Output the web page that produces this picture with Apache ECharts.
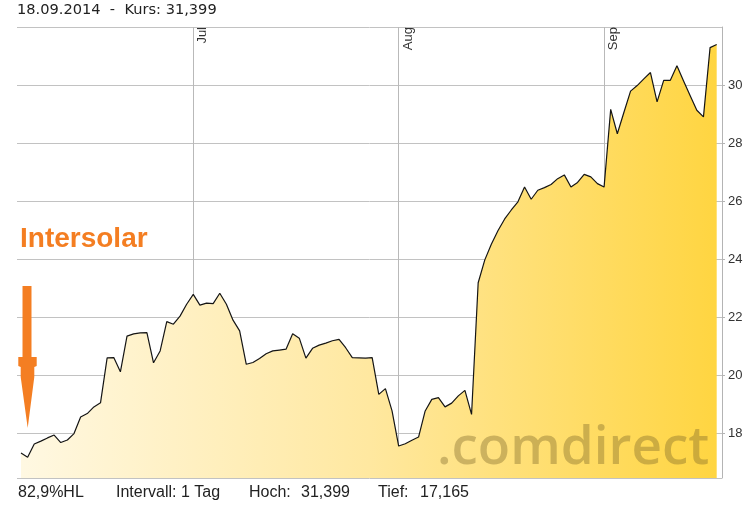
<!DOCTYPE html>
<html><head><meta charset="utf-8">
<script src="https://cdn.jsdelivr.net/npm/echarts@6/dist/echarts.min.js"></script>
<style>html,body{margin:0;padding:0;background:#fff}#c{width:756px;height:506px}</style>
</head><body><div id="c"></div>
<script>
// daily closing prices (Intervall: 1 Tag), first day 05.06.2014, last 18.09.2014
const firstDay = [2014, 6, 5];
const juneValues = [17.31, 17.165, 17.62, 17.72, 17.83, 17.93, 17.67, 17.76, 17.98, 18.55, 18.67, 18.90, 19.04,
  20.59, 20.60, 20.11, 21.34, 21.42, 21.45, 21.46, 20.42, 20.83, 21.84, 21.75, 22.03, 22.44];
const julyValues = [22.78, 22.41, 22.48, 22.46, 22.82, 22.44, 21.89, 21.52, 20.37, 20.43, 20.57, 20.73, 20.83,
  20.86, 20.89, 21.42, 21.27, 20.58, 20.92, 21.03, 21.10, 21.18, 21.23, 20.94, 20.60, 20.59, 20.58, 20.60,
  19.33, 19.53, 18.76];
const augustValues = [17.55, 17.63, 17.75, 17.86, 18.76, 19.16, 19.22, 18.90, 19.03, 19.28, 19.47, 18.64,
  23.18, 23.97, 24.52, 24.98, 25.38, 25.69, 25.97, 26.48, 26.06, 26.37, 26.46, 26.57, 26.77, 26.90, 26.48,
  26.64, 26.92, 26.83, 26.60];
const septemberValues = [26.48, 29.16, 28.32, 29.06, 29.79, 29.98, 30.21, 30.43, 29.42, 30.16, 30.16, 30.66,
  30.14, 29.63, 29.13, 28.90, 31.29, 31.399];
const headerText = '18.09.2014  -  Kurs: 31,399';
const footerTexts = ['82,9%HL', 'Intervall: 1 Tag', 'Hoch:', '31,399', 'Tief:', '17,165'];
const eventLabel = 'Intersolar';
const watermark = '.comdirect';

const values = juneValues.concat(julyValues, augustValues, septemberValues);
const dates = values.map((v, i) => {
  const d = new Date(firstDay[0], firstDay[1] - 1, firstDay[2] + i);
  return d.getFullYear() + '-' + String(d.getMonth() + 1).padStart(2, '0') + '-' + String(d.getDate()).padStart(2, '0');
});
const seriesData = dates.map((d, i) => [d, values[i]]);

const chart = echarts.init(document.getElementById('c'), null, {renderer: 'canvas'});
const footerX = [18, 116, 249, 301, 378, 420];
chart.setOption({
  animation: false,
  backgroundColor: '#ffffff',
  textStyle: {fontFamily: 'Liberation Sans'},
  grid: {left: 17, right: 34, top: 27, bottom: 28, containLabel: false, outerBoundsMode: 'none'},
  xAxis: {
    type: 'time',
    position: 'top',
    min: +new Date(2014, 5, 4, 9, 30),
    max: +new Date(2014, 8, 18, 19, 12),
    splitNumber: 3,
    axisLine: {show: false},
    axisTick: {show: false},
    axisLabel: {
      inside: true, rotate: -90, align: 'right', verticalAlign: 'top', margin: 0, padding: [3, 0, 0, 0],
      formatter: '{MMM}', color: '#333', fontSize: 13, fontFamily: 'Liberation Sans',
      showMinLabel: false, showMaxLabel: false
    },
    splitLine: {show: true, showMinLine: false, showMaxLine: false, lineStyle: {color: '#b9b9b9', width: 1}}
  },
  yAxis: {
    type: 'value',
    position: 'right',
    min: 16.448,
    max: 32,
    minInterval: 2,
    maxInterval: 2,
    splitNumber: 8,
    axisLine: {show: true, lineStyle: {color: '#b4b4b4'}},
    axisTick: {show: true, length: 3, lineStyle: {color: '#b4b4b4'}},
    axisLabel: {color: '#333', fontSize: 13, fontFamily: 'Liberation Sans', margin: 6,
      showMinLabel: false, showMaxLabel: false},
    splitLine: {show: true, lineStyle: {color: '#c2c2c2', width: 1}}
  },
  series: [{
    type: 'line',
    data: seriesData,
    symbol: 'none',
    lineStyle: {color: '#151515', width: 1.2},
    areaStyle: {
      opacity: 1,
      color: new echarts.graphic.LinearGradient(0, 0, 1, 0, [
        {offset: 0, color: '#FFF8E2'},
        {offset: 0.5, color: '#FFE8A0'},
        {offset: 1, color: '#FFD541'}
      ])
    },
    z: 2
  }],
  graphic: [
    {type: 'text', z: 10, style: {x: 17, y: 10, text: headerText, font: '14.6px "DejaVu Sans"', fill: '#222', align: 'left', verticalAlign: 'middle'}},
    {type: 'text', z: 10, style: {x: 20, y: 239, text: eventLabel, font: 'bold 28px "Liberation Sans"', fill: '#F47E22', align: 'left', verticalAlign: 'middle'}},
    {type: 'rect', z: 1, shape: {x: 22.5, y: 286, width: 9, height: 71}, style: {fill: '#F47E22'}},
    {type: 'polygon', z: 1, shape: {points: [[18.3, 357], [36.7, 357], [36.7, 366], [34.3, 367], [34.3, 377], [27.7, 428], [20.7, 377], [20.7, 367], [18.3, 366]]}, style: {fill: '#F47E22'}},
    {type: 'text', z: 5, style: {x: 437, y: 449, text: watermark, font: '600 53px "Open Sans"', fill: 'rgba(120,100,40,0.38)', align: 'left', verticalAlign: 'middle'}}
  ].concat(footerTexts.map((t, i) => ({
    type: 'text', z: 10, style: {x: footerX[i], y: 493, text: t, font: '16px "Liberation Sans"', fill: '#222', align: 'left', verticalAlign: 'middle'}
  })))
});
</script>
</body></html>
